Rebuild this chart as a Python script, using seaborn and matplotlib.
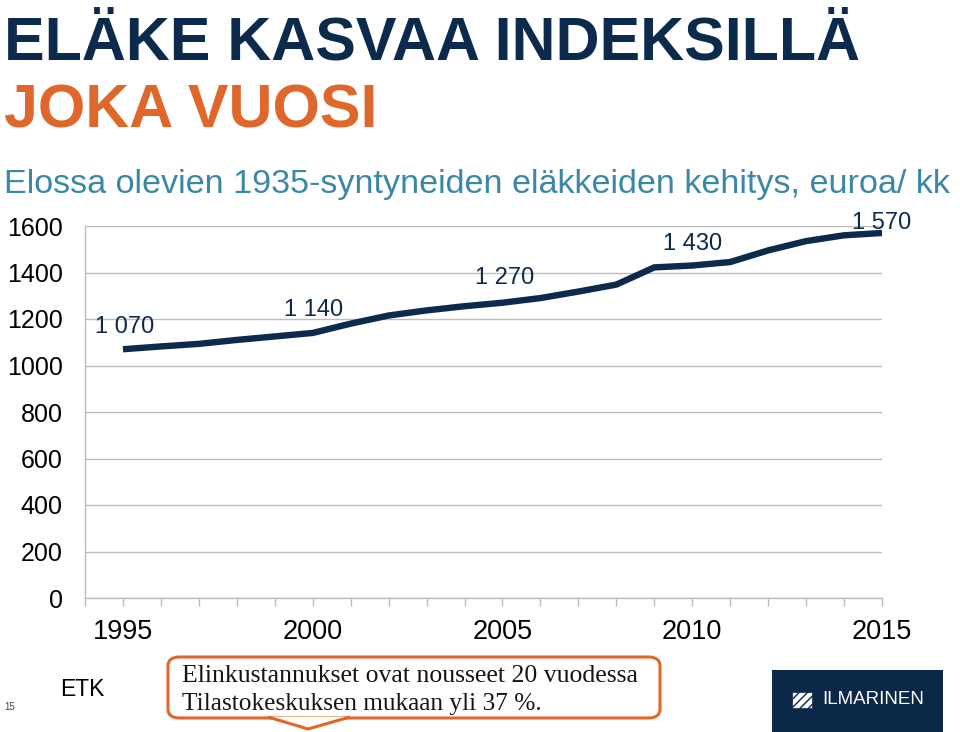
import matplotlib
matplotlib.use("Agg")
import matplotlib.pyplot as plt
from matplotlib.patches import FancyBboxPatch, Polygon, Rectangle
from matplotlib.ticker import MultipleLocator
import numpy as np
import pandas as pd
import seaborn as sns

# data
years = list(range(1995, 2016))
pension = [1070, 1082, 1093, 1110, 1125, 1140, 1180, 1215, 1237, 1255,
           1270, 1290, 1318, 1348, 1422, 1430, 1445, 1495, 1535, 1560, 1570]
label_years = [1995, 2000, 2005, 2010, 2015]
label_texts = ["1 070", "1 140", "1 270", "1 430", "1 570"]
yticks = [0, 200, 400, 600, 800, 1000, 1200, 1400, 1600]

NAVY = "#0c2a4b"
ORANGE = "#df672b"
TEAL = "#3b88a6"
GRID = "#bdbdbd"

sns.set_style("white")
plt.rcParams["font.family"] = ["Liberation Sans", "DejaVu Sans"]

W, H = 960, 732
fig = plt.figure(figsize=(W / 100, H / 100), dpi=100)


def fx(px):
    return px / W


def fy(py):
    return 1 - py / H


ax = fig.add_axes([fx(85), fy(598), fx(882) - fx(85), fy(226) - fy(598)])

df = pd.DataFrame({"year": years, "pension": pension})
sns.lineplot(data=df, x="year", y="pension", ax=ax, color=NAVY,
             linewidth=4.6, solid_joinstyle="miter", solid_capstyle="butt")

ax.set_xlim(1994, 2015)
ax.set_ylim(0, 1600)
ax.set_yticks(yticks)
ax.set_xticks(label_years)
ax.xaxis.set_minor_locator(MultipleLocator(1))
ax.yaxis.grid(True, color=GRID, linewidth=1.0)
ax.set_axisbelow(True)
ax.set_xlabel("")
ax.set_ylabel("")
for s in ["top", "right"]:
    ax.spines[s].set_visible(False)
for s in ["left", "bottom"]:
    ax.spines[s].set_color(GRID)
    ax.spines[s].set_linewidth(1.0)
ax.tick_params(axis="y", which="major", length=5, width=1, color=GRID,
               labelsize=18, pad=11, labelcolor="black")
ax.tick_params(axis="x", which="both", length=6, width=1, color=GRID,
               direction="out", bottom=True)
ax.tick_params(axis="x", which="major", labelsize=19.5, pad=9,
               labelcolor="black")

# value labels, offsets in pixels from the point (right, up)
offs = {1995: (2, 22), 2000: (1, 23), 2005: (2, 25), 2010: (0, 22), 2015: (0, 10)}
for yr, txt in zip(label_years, label_texts):
    v = pension[years.index(yr)]
    dx, dy = offs[yr]
    ax.annotate(txt, (yr, v), xytext=(dx * 0.72, dy * 0.72),
                textcoords="offset points", ha="center", va="center",
                fontsize=17, color=NAVY, annotation_clip=False)

# titles
fig.text(fx(4), fy(60), "ELÄKE KASVAA INDEKSILLÄ", fontsize=43.8,
         fontweight="bold", color=NAVY, va="baseline", ha="left")
fig.text(fx(4), fy(128), "JOKA VUOSI", fontsize=43.8, fontweight="bold",
         color=ORANGE, va="baseline", ha="left")
fig.text(fx(4), fy(193), "Elossa olevien 1935-syntyneiden eläkkeiden kehitys, euroa/ kk",
         fontsize=24.6, color=TEAL, va="baseline", ha="left")

# footer
fig.text(fx(4), fy(707), "15", fontsize=7, color="#444444", va="center")
fig.text(fx(60), fy(690), "ETK", fontsize=16.5, color="black", va="center")

box = FancyBboxPatch((fx(168), fy(718)), fx(660) - fx(168), fy(657) - fy(718),
                     boxstyle="round,pad=0,rounding_size=0.012",
                     transform=fig.transFigure, facecolor="white",
                     edgecolor=ORANGE, linewidth=2.2, zorder=2)
fig.patches.append(box)
tip = Polygon([(fx(268), fy(717)), (fx(308), fy(729)), (fx(350), fy(717))],
              closed=False, transform=fig.transFigure, facecolor="white",
              edgecolor=ORANGE, linewidth=2.2, zorder=3)
fig.patches.append(tip)
serif = ["Liberation Serif", "DejaVu Serif"]
fig.text(fx(182), fy(682), "Elinkustannukset ovat nousseet 20 vuodessa",
         fontsize=18.5, family=serif, color="#151515", va="baseline", zorder=4)
fig.text(fx(182), fy(710), "Tilastokeskuksen mukaan yli 37 %.",
         fontsize=18.3, family=serif, color="#151515", va="baseline", zorder=4)

# logo
logo = Rectangle((fx(772), 0), fx(943) - fx(772), fy(670),
                 transform=fig.transFigure, facecolor="#0b2848",
                 edgecolor="none", zorder=2)
fig.patches.append(logo)
icon = Rectangle((fx(792), fy(708)), fx(812) - fx(792), fy(692) - fy(708),
                 transform=fig.transFigure, facecolor="white",
                 edgecolor="#0b2848", hatch="////", linewidth=0.5, zorder=3)
fig.patches.append(icon)
fig.text(fx(822), fy(700), "ILMARINEN", fontsize=13.5, color="white",
         va="center", ha="left", zorder=4)

fig.savefig("out.png", dpi=100)
